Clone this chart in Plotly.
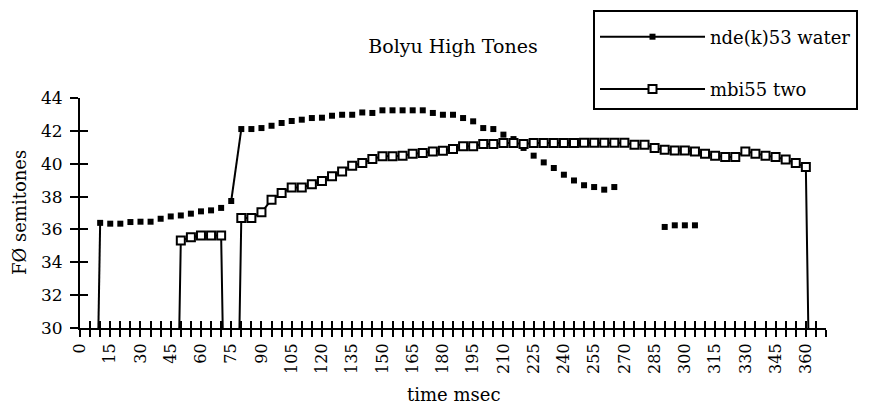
import plotly.graph_objects as go

# ---------------- data ----------------
# nde(k)53 water : time (msec) and F0 (semitones); None = no measurement
nde_time = [5, 10, 15, 20, 25, 30, 35, 40, 45, 50, 55, 60, 65, 70, 75,
            80, 85, 90, 95, 100, 105, 110, 115, 120, 125, 130, 135, 140, 145,
            150, 155, 160, 165, 170, 175, 180, 185, 190, 195, 200, 205, 210,
            215, 220, 225, 230, 235, 240, 245, 250, 255, 260, 265,
            270, 275, 280, 285, 290, 295, 300, 305]
nde_f0 = [0, 36.40, 36.35, 36.35, 36.45, 36.47, 36.47, 36.65, 36.79, 36.85,
          36.96, 37.10, 37.16, 37.31, 37.73,
          42.11, 42.11, 42.17, 42.31, 42.48, 42.60, 42.68, 42.78, 42.80, 42.92,
          42.98, 42.98, 43.12, 43.09, 43.25, 43.25, 43.25, 43.25, 43.25, 43.09,
          42.98, 42.98, 42.78, 42.58, 42.17, 42.11, 41.77, 41.50, 40.96, 40.49,
          40.08, 39.74, 39.33, 38.98, 38.69, 38.58, 38.42, 38.58,
          None, None, None, None, 36.15, 36.25, 36.25, 36.25]

# mbi55 two
mbi_time = [45, 50, 55, 60, 65, 70, 75,
            80, 85, 90, 95, 100, 105, 110, 115, 120, 125, 130, 135, 140, 145,
            150, 155, 160, 165, 170, 175, 180, 185, 190, 195, 200, 205, 210,
            215, 220, 225, 230, 235, 240, 245, 250, 255, 260, 265, 270, 275,
            280, 285, 290, 295, 300, 305, 310, 315, 320, 325, 330, 335, 340,
            345, 350, 355, 360, 365]
mbi_f0 = [0, 35.33, 35.53, 35.63, 35.63, 35.63, 0,
          36.70, 36.70, 37.04, 37.80, 38.22, 38.55, 38.55, 38.75, 38.95, 39.23,
          39.53, 39.88, 40.04, 40.29, 40.45, 40.45, 40.49, 40.60, 40.65, 40.75,
          40.79, 40.90, 41.06, 41.06, 41.20, 41.20, 41.26, 41.26, 41.20, 41.26,
          41.26, 41.26, 41.26, 41.26, 41.28, 41.28, 41.28, 41.28, 41.28, 41.16,
          41.16, 40.96, 40.85, 40.80, 40.80, 40.75, 40.61, 40.49, 40.41, 40.41,
          40.75, 40.61, 40.49, 40.41, 40.25, 40.04, 39.80, 0]

x_tick_values = [0, 5, 10, 15, 20, 25, 30, 35, 40, 45, 50, 55, 60, 65, 70, 75,
                 80, 85, 90, 95, 100, 105, 110, 115, 120, 125, 130, 135, 140,
                 145, 150, 155, 160, 165, 170, 175, 180, 185, 190, 195, 200,
                 205, 210, 215, 220, 225, 230, 235, 240, 245, 250, 255, 260,
                 265, 270, 275, 280, 285, 290, 295, 300, 305, 310, 315, 320,
                 325, 330, 335, 340, 345, 350, 355, 360, 365, 370]
x_label_values = [0, 15, 30, 45, 60, 75, 90, 105, 120, 135, 150, 165, 180, 195,
                  210, 225, 240, 255, 270, 285, 300, 315, 330, 345, 360]
y_tick_values = [30, 32, 34, 36, 38, 40, 42, 44]

TITLE = "Bolyu High Tones"
X_TITLE = "time msec"
Y_TITLE = "FØ semitones"
NAME_1 = "nde(k)53 water"
NAME_2 = "mbi55 two"

# ---------------- helpers ----------------
FONT = "DejaVu Serif"


def broken_line(ts, vs, jump=1.0):
    """Only keep the connecting segment where the value jumps by more than
    `jump` semitones (as in the original print); otherwise break the line."""
    xs, ys = [], []
    for i, (t, v) in enumerate(zip(ts, vs)):
        xs.append(t)
        ys.append(v)
        if i + 1 < len(ts):
            nv = vs[i + 1]
            if v is None or nv is None or abs(nv - v) <= jump:
                xs.append(t)
                ys.append(None)
    return xs, ys


nx, ny = broken_line(nde_time, nde_f0)
x_range = [0, 370]
y_range = [30, 44]

W, H = 874, 409
fig = go.Figure()
fig.add_trace(go.Scatter(
    x=nx, y=ny, name=NAME_1, mode="lines+markers", connectgaps=False,
    line=dict(color="black", width=2),
    marker=dict(symbol="square", size=6, color="black"),
    legendgroup="a", cliponaxis=True))
fig.add_trace(go.Scatter(
    x=mbi_time, y=mbi_f0, name=NAME_2, mode="lines+markers",
    line=dict(color="black", width=2),
    marker=dict(symbol="square", size=8, color="white",
                line=dict(color="black", width=2)),
    legendgroup="b", cliponaxis=True))
# empty trace so that the overlaid tick-only axes are drawn
fig.add_trace(go.Scatter(x=[], y=[], xaxis="x2", yaxis="y2",
                         showlegend=False, hoverinfo="skip"))

x_text = [str(v) if v in x_label_values else "" for v in x_tick_values]
axis_font = dict(family=FONT, size=16, color="black")

fig.update_layout(
    width=W, height=H,
    margin=dict(l=80, r=48, t=98, b=81, autoexpand=False),
    paper_bgcolor="white", plot_bgcolor="white",
    showlegend=True,
    title=dict(text=TITLE, x=0.5, xref="paper", xanchor="center",
               y=1 - 46 / H, yref="container", yanchor="middle",
               font=dict(family=FONT, size=19, color="black")),
    xaxis=dict(range=x_range, tickmode="array", tickvals=x_tick_values,
               ticktext=x_text, tickangle=-90, ticks="outside", ticklen=7,
               tickwidth=2, tickcolor="black", showline=True, linewidth=2,
               linecolor="black", showgrid=False, zeroline=False,
               tickfont=axis_font, automargin=False),
    xaxis2=dict(range=x_range, overlaying="x", anchor="y", side="bottom",
                tickmode="array", tickvals=x_tick_values, ticks="inside",
                ticklen=7, tickwidth=2, tickcolor="black",
                showticklabels=False, showline=False, showgrid=False,
                zeroline=False, automargin=False),
    yaxis=dict(range=y_range, tickmode="array", tickvals=y_tick_values,
               ticks="outside", ticklen=8, tickwidth=2, tickcolor="black",
               showline=True, linewidth=2, linecolor="black", showgrid=False,
               zeroline=False, automargin=False, ticklabelstandoff=4,
               tickfont=dict(family=FONT, size=17, color="black")),
    yaxis2=dict(range=y_range, overlaying="y", anchor="x", side="left",
                tickmode="array", tickvals=y_tick_values, ticks="inside",
                ticklen=8, tickwidth=2, tickcolor="black",
                showticklabels=False, showline=False, showgrid=False,
                zeroline=False, automargin=False),
    legend=dict(xref="container", yref="container",
                x=593 / W, xanchor="left", y=1 - 10 / H, yanchor="top",
                bordercolor="black", borderwidth=2, bgcolor="white",
                font=dict(family=FONT, size=18, color="black"),
                title=dict(text=" ", font=dict(family=FONT, size=5)),
                itemwidth=105,
                traceorder="grouped", tracegroupgap=26),
    annotations=[
        dict(text=X_TITLE, xref="paper", yref="paper", x=0.5,
             y=(328 - 394) / 230, xanchor="center", yanchor="middle",
             showarrow=False, font=dict(family=FONT, size=18, color="black")),
        dict(text=Y_TITLE, xref="paper", yref="paper", x=(19 - 80) / 746,
             y=0.5, xanchor="center", yanchor="middle", textangle=-90,
             showarrow=False, font=dict(family=FONT, size=18, color="black")),
    ],
)

fig.write_html("out.html",
               config={"displayModeBar": False},
               post_script="document.body.style.margin='0';"
                           "document.body.style.overflow='hidden';")
